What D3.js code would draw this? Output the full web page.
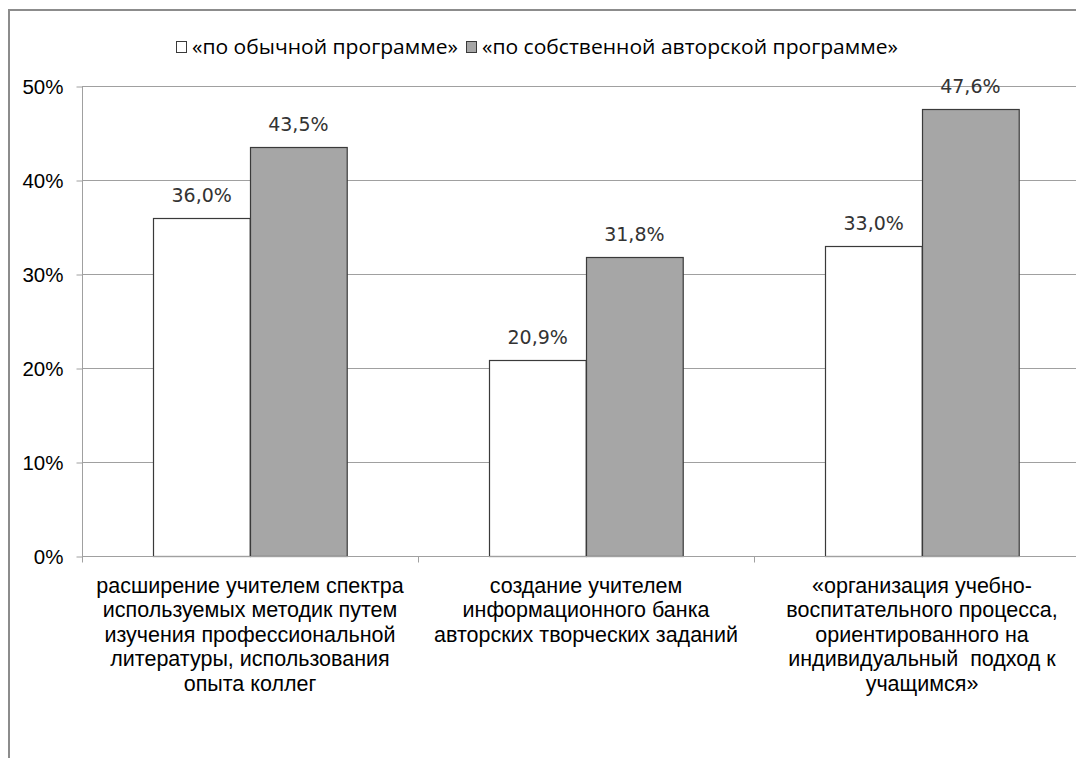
<!DOCTYPE html>
<html>
<head>
<meta charset="utf-8">
<script src="https://cdn.jsdelivr.net/npm/d3@7"></script>
<style>
  html, body { margin: 0; padding: 0; background: #fff; }
  svg { display: block; }
</style>
</head>
<body>
<svg id="chart" width="1076" height="758"></svg>
<script>
// Categories (each label already split into its display lines)
const categories = ["cat1", "cat2", "cat3"];
const categoryLines = [
  ["расширение учителем спектра", "используемых методик путем", "изучения профессиональной", "литературы, использования", "опыта коллег"],
  ["создание учителем", "информационного банка", "авторских творческих заданий"],
  ["«организация учебно-", "воспитательного процесса,", "ориентированного на", "индивидуальный  подход к", "учащимся»"]
];
const seriesNames = ["«по обычной программе»", "«по собственной авторской программе»"];
const seriesKeys = ["usual", "own"];
const usualValues = [36.0, 20.9, 33.0];
const ownValues = [43.5, 31.8, 47.6];
const yTicks = [0, 10, 20, 30, 40, 50];
const seriesFill = ["#ffffff", "#a6a6a6"];

const svg = d3.select("#chart");

// chart frame
svg.append("rect")
  .attr("x", 9).attr("y", 10)
  .attr("width", 1090).attr("height", 780)
  .attr("fill", "none").attr("stroke", "#8c8c8c").attr("stroke-width", 2);

const plot = { left: 82, right: 1090, top: 86, bottom: 556 };

const y = d3.scaleLinear().domain([0, 50]).range([plot.bottom, plot.top]);
const x0 = d3.scaleBand().domain(categories).range([plot.left, plot.right]).paddingInner(0).paddingOuter(0);
const x1 = d3.scaleBand().domain(seriesKeys).range([0, x0.bandwidth()]).paddingOuter(0.737).paddingInner(0);

// horizontal gridlines
svg.append("g").selectAll("line").data(yTicks.filter(t => t > 0)).join("line")
  .attr("x1", plot.left).attr("x2", plot.right)
  .attr("y1", d => Math.round(y(d)) + 0.5).attr("y2", d => Math.round(y(d)) + 0.5)
  .attr("stroke", "#a0a0a0").attr("stroke-width", 1);

// y axis
const yAxis = d3.axisLeft(y).tickValues(yTicks).tickSize(6).tickPadding(13).tickFormat(d => d + "%");
const gy = svg.append("g").attr("transform", `translate(${plot.left + 0.5},0.5)`).call(yAxis);
gy.select(".domain").attr("stroke", "#a0a0a0").attr("d", `M0,${plot.top}V${plot.bottom}`);
gy.selectAll(".tick line").attr("stroke", "#a0a0a0");
gy.selectAll(".tick text")
  .attr("font-family", "'Liberation Sans', Arial, sans-serif")
  .attr("font-size", 20.5).attr("fill", "#000").attr("dy", "0.34em");

// bars
const data = categories.map((c, i) => ({ cat: c, values: [
  { key: "usual", v: usualValues[i] }, { key: "own", v: ownValues[i] }
]}));

const groups = svg.append("g").selectAll("g").data(data).join("g")
  .attr("transform", d => `translate(${x0(d.cat)},0)`);

groups.selectAll("rect").data(d => d.values).join("rect")
  .attr("x", d => Math.round(x1(d.key)) + 0.5)
  .attr("y", d => Math.round(y(d.v)) + 0.5)
  .attr("width", x1.bandwidth())
  .attr("height", d => Math.round(y(0)) - Math.round(y(d.v)))
  .attr("fill", d => seriesFill[seriesKeys.indexOf(d.key)])
  .attr("stroke", "#3a3a3a").attr("stroke-width", 1.2);

groups.selectAll("text.val").data(d => d.values).join("text")
  .attr("class", "val")
  .attr("x", d => x1(d.key) + x1.bandwidth() / 2)
  .attr("y", d => y(d.v) - 16)
  .attr("text-anchor", "middle")
  .attr("font-family", "'DejaVu Sans', Verdana, sans-serif")
  .attr("font-size", 19).attr("fill", "#333")
  .text(d => d.v.toFixed(1).replace(".", ",") + "%");

// x axis
const gx = svg.append("g").attr("transform", `translate(0,${plot.bottom + 0.5})`);
gx.append("line").attr("x1", plot.left).attr("x2", plot.right)
  .attr("stroke", "#a0a0a0");
gx.selectAll("line.tick").data(categories.concat(["end"])).join("line")
  .attr("class", "tick")
  .attr("x1", (d, i) => Math.round(plot.left + i * x0.bandwidth()) + 0.5)
  .attr("x2", (d, i) => Math.round(plot.left + i * x0.bandwidth()) + 0.5)
  .attr("y1", 0).attr("y2", 6).attr("stroke", "#a0a0a0");

// category labels
const labels = gx.selectAll("text.cat").data(categories).join("text")
  .attr("class", "cat")
  .attr("text-anchor", "middle")
  .attr("font-family", "'Liberation Sans', Arial, sans-serif")
  .attr("font-size", 21.5).attr("fill", "#000");
labels.each(function(d, i) {
  const t = d3.select(this);
  categoryLines[i].forEach((line, j) => {
    t.append("tspan")
      .attr("x", x0(d) + x0.bandwidth() / 2)
      .attr("y", 36 + j * 24.5)
      .attr("xml:space", "preserve")
      .text(line);
  });
});

// legend
const legendX = [176, 466];
seriesNames.forEach((name, i) => {
  const g = svg.append("g").attr("transform", `translate(${legendX[i]},47)`);
  g.append("rect").attr("x", 0.5).attr("y", -5.5).attr("width", 10).attr("height", 11)
    .attr("fill", seriesFill[i]).attr("stroke", "#3a3a3a").attr("stroke-width", 1);
  g.append("g").attr("transform", "translate(16,0) scale(1.08,1)")
    .append("text").attr("x", 0).attr("y", 0).attr("dy", "0.35em")
    .attr("font-family", "'Open Sans', sans-serif")
    .attr("font-size", 19.5).attr("fill", "#000")
    .text(name);
});
</script>
</body>
</html>
